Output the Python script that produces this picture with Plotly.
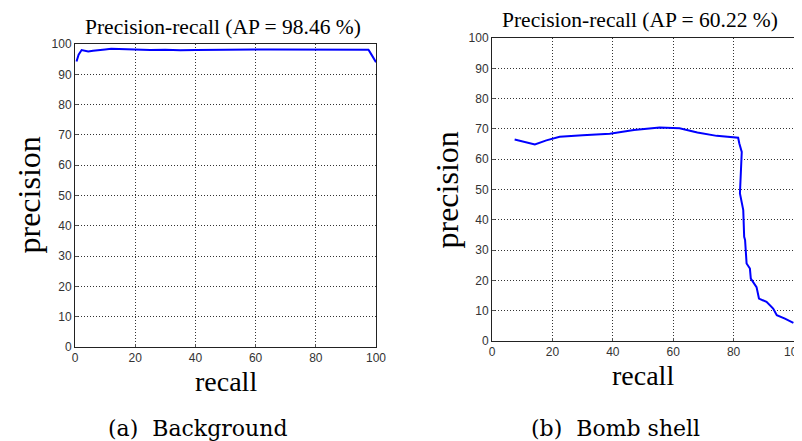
import plotly.graph_objects as go

# (a) Background
bg_recall = [0.5, 1.2, 2.2, 3.0, 4.4, 6.0, 8.0, 10.0, 12.0, 15.0, 18.0, 20.0, 22.0,
             25.0, 30.0, 35.0, 40.0, 45.0, 50.0, 55.0, 60.0, 65.0, 70.0, 75.0,
             80.0, 85.0, 90.0, 95.0, 97.5, 98.5, 99.3, 100.0]
bg_precision = [94.2, 96.5, 98.0, 97.9, 97.5, 97.8, 98.1, 98.2, 98.4, 98.3, 98.2, 98.1, 97.9,
                98.0, 98.1, 97.9, 98.0, 98.1, 98.0, 98.1, 98.2, 98.2, 98.2, 98.2,
                98.2, 98.2, 98.2, 98.2, 98.1, 96.5, 95.0, 94.0]

# (b) Bomb shell
bs_recall = [7.5, 14.2, 18.0, 22.4, 30.0, 39.0, 47.0, 55.5, 62.1, 68.0, 74.4, 81.5,
             81.9, 82.7, 82.1, 83.2, 83.5, 83.8, 84.3, 85.4, 85.7, 87.6, 88.4,
             90.9, 93.1, 94.3, 97.0, 99.8]
bs_precision = [66.5, 64.9, 66.2, 67.4, 67.9, 68.4, 69.6, 70.5, 70.2, 68.8, 67.7, 67.1,
                65.2, 62.4, 48.7, 43.2, 34.4, 33.3, 25.6, 23.9, 20.6, 17.8, 14.0,
                12.9, 10.7, 8.5, 7.4, 6.0]

titles = ["Precision-recall (AP = 98.46 %)", "Precision-recall (AP = 60.22 %)"]
captions = ["(a)  Background", "(b)  Bomb shell"]

W, H = 802, 441
OFF = 8  # the page body adds an 8px margin, so work in page pixels minus that
serif = "Liberation Serif"
sans = "Liberation Sans"

fig = go.Figure()
fig.add_trace(go.Scatter(x=bg_recall, y=bg_precision, mode="lines",
                         line=dict(color="#0000ff", width=2), xaxis="x", yaxis="y"))
fig.add_trace(go.Scatter(x=bs_recall, y=bs_precision, mode="lines",
                         line=dict(color="#0000ff", width=2), xaxis="x2", yaxis="y2"))

# page-pixel boxes of the two axes: left, right, top, bottom
boxes = [(75, 376, 44, 347), (492, 794, 38, 341)]
caption_x = [197, 615]


def px(x):
    return (x - OFF) / W


def py(y):
    return 1 - (y - OFF) / H


axis_common = dict(
    range=[0, 100], showline=True, mirror=True, linecolor="#222", linewidth=1,
    showgrid=True, gridcolor="#333", griddash="1px,2px", gridwidth=1,
    zeroline=False, ticks="inside", ticklen=3, tickcolor="#555", automargin=False,
    ticklabeloverflow="allow",
    tickfont=dict(family=sans, size=12, color="#333"),
)

layout = dict(width=W, height=H, margin=dict(l=0, r=0, t=0, b=0),
              paper_bgcolor="white", plot_bgcolor="white", showlegend=False)
annotations = []
for i, (x0, x1, y0, y1) in enumerate(boxes):
    sfx = "" if i == 0 else "2"
    layout["xaxis" + sfx] = dict(axis_common, domain=[px(x0), px(x1)], dtick=20,
                                 anchor="y" + sfx)
    layout["yaxis" + sfx] = dict(axis_common, domain=[py(y1), py(y0)], dtick=10,
                                 anchor="x" + sfx)
    cx = (x0 + x1) / 2
    annotations.append(dict(text=titles[i], x=px(cx - 3), y=py(y0 - 17.5),
                            font=dict(family=serif, size=21.5, color="black")))
    annotations.append(dict(text="recall", x=px(cx), y=py(y1 + 34),
                            font=dict(family=serif, size=28, color="black")))
    annotations.append(dict(text="precision", x=px(x0 - 46), y=py((y0 + y1) / 2),
                            textangle=-90, font=dict(family=serif, size=32, color="black")))
    annotations.append(dict(text=captions[i], x=px(caption_x[i]), y=py(428),
                            font=dict(family="DejaVu Serif", size=22, color="black")))

for a in annotations:
    a.update(xref="paper", yref="paper", showarrow=False, xanchor="center", yanchor="middle")
layout["annotations"] = annotations

fig.update_layout(**layout)
fig.write_html("out.html")
